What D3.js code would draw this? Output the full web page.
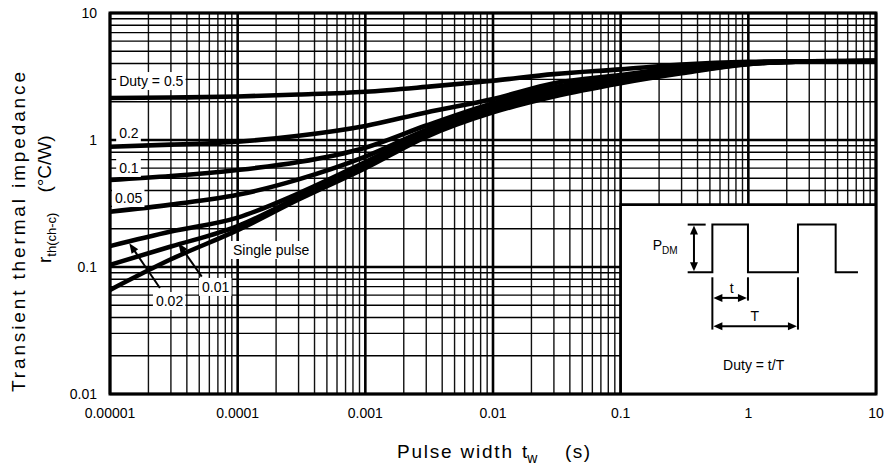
<!DOCTYPE html>
<html><head><meta charset="utf-8">
<script src="https://cdn.jsdelivr.net/npm/d3@7"></script>
<style>
html,body{margin:0;padding:0;background:#fff;}
svg{display:block;font-family:"Liberation Sans",Arial,sans-serif;}
</style></head>
<body>
<svg id="chart" width="886" height="470"></svg>
<script>
// ---- data ----
const pulseWidth = [1e-5,3e-5,1e-4,3e-4,1e-3,3e-3,1e-2,3e-2,1e-1,3e-1,1,3,10];
const duty05  = [2.14,2.16,2.2,2.28,2.4,2.62,2.93,3.3,3.6,3.92,4.12,4.17,4.18];
const duty02  = [0.885,0.92,0.97,1.08,1.29,1.65,2.1,2.8,3.25,3.75,4.08,4.16,4.18];
const duty01  = [0.484,0.52,0.58,0.67,0.87,1.3,1.95,2.6,3.1,3.65,4.05,4.16,4.18];
const duty005 = [0.272,0.31,0.37,0.49,0.74,1.2,1.85,2.45,3.0,3.55,4.02,4.15,4.18];
const duty002 = [0.146,0.19,0.245,0.38,0.67,1.14,1.75,2.35,2.9,3.45,3.99,4.15,4.18];
const duty001 = [0.104,0.145,0.21,0.355,0.63,1.1,1.7,2.28,2.85,3.4,3.97,4.15,4.18];
const singlePulse = [0.066,0.115,0.195,0.34,0.6,1.06,1.65,2.2,2.8,3.35,3.95,4.15,4.18];

const xTicks = [1e-5,1e-4,1e-3,1e-2,1e-1,1,10];
const xTickLabels = ["0.00001","0.0001","0.001","0.01","0.1","1","10"];
const yTicks = [0.01,0.1,1,10];
const yTickLabels = ["0.01","0.1","1","10"];

// curve labels: [text, x, baseline y] in data units
const curveLabels = [
  ["Duty = 0.5", 1.18e-5, 2.66],
  ["0.2", 1.18e-5, 1.037],
  ["0.1", 1.18e-5, 0.55],
  ["0.05", 1.094e-5, 0.319],
  ["Single pulse", 9.19e-5, 0.1243],
  ["0.02", 2.29e-5, 0.0493],
  ["0.01", 5.26e-5, 0.0636]
];
// arrows: tail -> tip in data units
const arrows = [
  [[2.46e-5,0.0684],[1.416e-5,0.154]],
  [[5.23e-5,0.0839],[3.43e-5,0.154]]
];

// ---- scales ----
const svg = d3.select("#chart");
const x = d3.scaleLog().domain([1e-5,10]).range([110,876]);
const y = d3.scaleLog().domain([0.01,10]).range([394,13]);

// ---- grid ----
const grid = svg.append("g");
const xMinor = [], yMinor = [];
for (let e=-5;e<1;e++) for (let k=2;k<=9;k++) xMinor.push(k*Math.pow(10,e));
for (let e=-2;e<1;e++) for (let k=2;k<=9;k++) yMinor.push(k*Math.pow(10,e));
grid.selectAll(".vx").data(xMinor).join("line")
  .attr("x1",d=>x(d)).attr("x2",d=>x(d)).attr("y1",y(0.01)).attr("y2",y(10))
  .attr("stroke","#111").attr("stroke-width",1.4);
grid.selectAll(".hy").data(yMinor).join("line")
  .attr("y1",d=>y(d)).attr("y2",d=>y(d)).attr("x1",x(1e-5)).attr("x2",x(10))
  .attr("stroke","#000").attr("stroke-width",1.4);
grid.selectAll(".vX").data(xTicks).join("line")
  .attr("x1",d=>x(d)).attr("x2",d=>x(d)).attr("y1",y(0.01)).attr("y2",y(10))
  .attr("stroke","#000").attr("stroke-width",2.6);
grid.selectAll(".hY").data(yTicks).join("line")
  .attr("y1",d=>y(d)).attr("y2",d=>y(d)).attr("x1",x(1e-5)).attr("x2",x(10))
  .attr("stroke","#000").attr("stroke-width",2.6);

// ---- curves ----
const series = [duty05,duty02,duty01,duty005,duty002,duty001,singlePulse];
const line = d3.line().x((d,i)=>x(pulseWidth[i])).y(d=>y(d)).curve(d3.curveMonotoneX);
svg.append("g").selectAll("path").data(series).join("path")
  .attr("d",d=>line(d)).attr("fill","none").attr("stroke","#000")
  .attr("stroke-width",4.6).attr("stroke-linecap","butt");

// ---- labels ----
const lg = svg.append("g").attr("font-size",14);
curveLabels.forEach(([t,xv,yv])=>{
  const tx = lg.append("text").attr("x",x(xv)).attr("y",y(yv)).text(t);
  const bb = tx.node().getBBox();
  lg.insert("rect","text").attr("x",bb.x-3).attr("y",bb.y-1).attr("width",bb.width+5).attr("height",bb.height+2).attr("fill","#fff");
});

function arrowHead(g,x0,y0,x1,y1,len,half){
  const a=Math.atan2(y1-y0,x1-x0);
  const bx=x1-len*Math.cos(a), by=y1-len*Math.sin(a);
  const px=-Math.sin(a)*half, py=Math.cos(a)*half;
  g.append("path").attr("d",`M${x1},${y1}L${bx+px},${by+py}L${bx-px},${by-py}Z`).attr("fill","#000");
}
const ag = svg.append("g");
arrows.forEach(([s,t])=>{
  const x0=x(s[0]),y0=y(s[1]),x1=x(t[0]),y1=y(t[1]);
  const a=Math.atan2(y1-y0,x1-x0);
  ag.append("line").attr("x1",x0).attr("y1",y0).attr("x2",x1-6*Math.cos(a)).attr("y2",y1-6*Math.sin(a))
    .attr("stroke","#000").attr("stroke-width",2);
  arrowHead(ag,x0,y0,x1,y1,10,4);
});

// ---- inset ----
const ix = x(0.1), iy = y(0.31);
const ins = svg.append("g");
ins.append("rect").attr("x",ix).attr("y",iy).attr("width",x(10)-ix).attr("height",y(0.01)-iy).attr("fill","#fff");
ins.append("path").attr("d",`M${ix},${y(0.01)}V${iy}H${x(10)}`).attr("fill","none").attr("stroke","#000").attr("stroke-width",2.6);
const g2 = ins.append("g").attr("transform",`translate(${ix},${iy})`);
const B=67.7, H=20;
g2.append("path").attr("d",`M67,${B}H91.7V${H}H127.3V${B}H177.3V${H}H215V${B}H237.3`)
  .attr("fill","none").attr("stroke","#000").attr("stroke-width",2);
g2.append("line").attr("x1",67).attr("x2",85).attr("y1",H).attr("y2",H).attr("stroke","#000").attr("stroke-width",2);
// PDM arrow
g2.append("line").attr("x1",73.3).attr("x2",73.3).attr("y1",H+6).attr("y2",B-6).attr("stroke","#000").attr("stroke-width",2);
arrowHead(g2,73.3,B,73.3,H+1,9,4);
arrowHead(g2,73.3,H,73.3,B-1,9,4);
// t/T verticals
[[91.7,125],[127.3,96],[177.3,125]].forEach(([xx,y2])=>{
  g2.append("line").attr("x1",xx).attr("x2",xx).attr("y1",72.7).attr("y2",y2).attr("stroke","#000").attr("stroke-width",2);
});
[[91.7,127.3,93.3],[91.7,177.3,121.7]].forEach(([a,b,yy])=>{
  g2.append("line").attr("x1",a+6).attr("x2",b-6).attr("y1",yy).attr("y2",yy).attr("stroke","#000").attr("stroke-width",2);
  arrowHead(g2,b,yy,a+1,yy,9,4);
  arrowHead(g2,a,yy,b-1,yy,9,4);
});
const pt = g2.append("text").attr("x",32).attr("y",45).attr("font-size",14);
pt.append("tspan").text("P");
pt.append("tspan").attr("font-size",10).attr("dy",4).text("DM");
g2.append("text").attr("x",111).attr("y",88).attr("font-size",14).attr("text-anchor","middle").text("t");
g2.append("text").attr("x",134).attr("y",116.7).attr("font-size",14).attr("text-anchor","middle").text("T");
g2.append("text").attr("x",133).attr("y",165.7).attr("font-size",14).attr("text-anchor","middle").text("Duty = t/T");

// ---- frame ----
svg.append("rect").attr("x",x(1e-5)).attr("y",y(10)).attr("width",x(10)-x(1e-5)).attr("height",y(0.01)-y(10))
  .attr("fill","none").attr("stroke","#000").attr("stroke-width",3);

// ---- tick labels ----
svg.append("g").selectAll("text").data(xTicks).join("text")
  .attr("x",d=>x(d)).attr("y",418).attr("text-anchor","middle").attr("font-size",14)
  .text((d,i)=>xTickLabels[i]);
svg.append("g").selectAll("text").data(yTicks).join("text")
  .attr("x",97).attr("y",d=>y(d)+5).attr("text-anchor","end").attr("font-size",14)
  .text((d,i)=>yTickLabels[i]);

// ---- axis titles ----
const xt = svg.append("g").attr("font-size",19);
xt.append("text").attr("x",397).attr("y",458).attr("textLength",115).attr("lengthAdjust","spacing").text("Pulse width");
const tw = xt.append("text").attr("x",522).attr("y",458);
tw.append("tspan").text("t");
tw.append("tspan").attr("font-size",14).attr("dy",5).text("w");
xt.append("text").attr("x",565).attr("y",458).attr("textLength",25).attr("lengthAdjust","spacing").text("(s)");

svg.append("text").attr("transform","translate(25,232) rotate(-90)").attr("text-anchor","middle")
  .attr("font-size",19).attr("textLength",320).attr("lengthAdjust","spacing").text("Transient thermal impedance");
const yt2 = svg.append("text").attr("transform","translate(51,263) rotate(-90)").attr("font-size",19);
yt2.append("tspan").text("r");
yt2.append("tspan").attr("font-size",13).attr("dy",5).text("th(ch-c)");
yt2.append("tspan").attr("dy",-5).attr("dx",20).text("(°C/W)");
</script>
</body></html>
